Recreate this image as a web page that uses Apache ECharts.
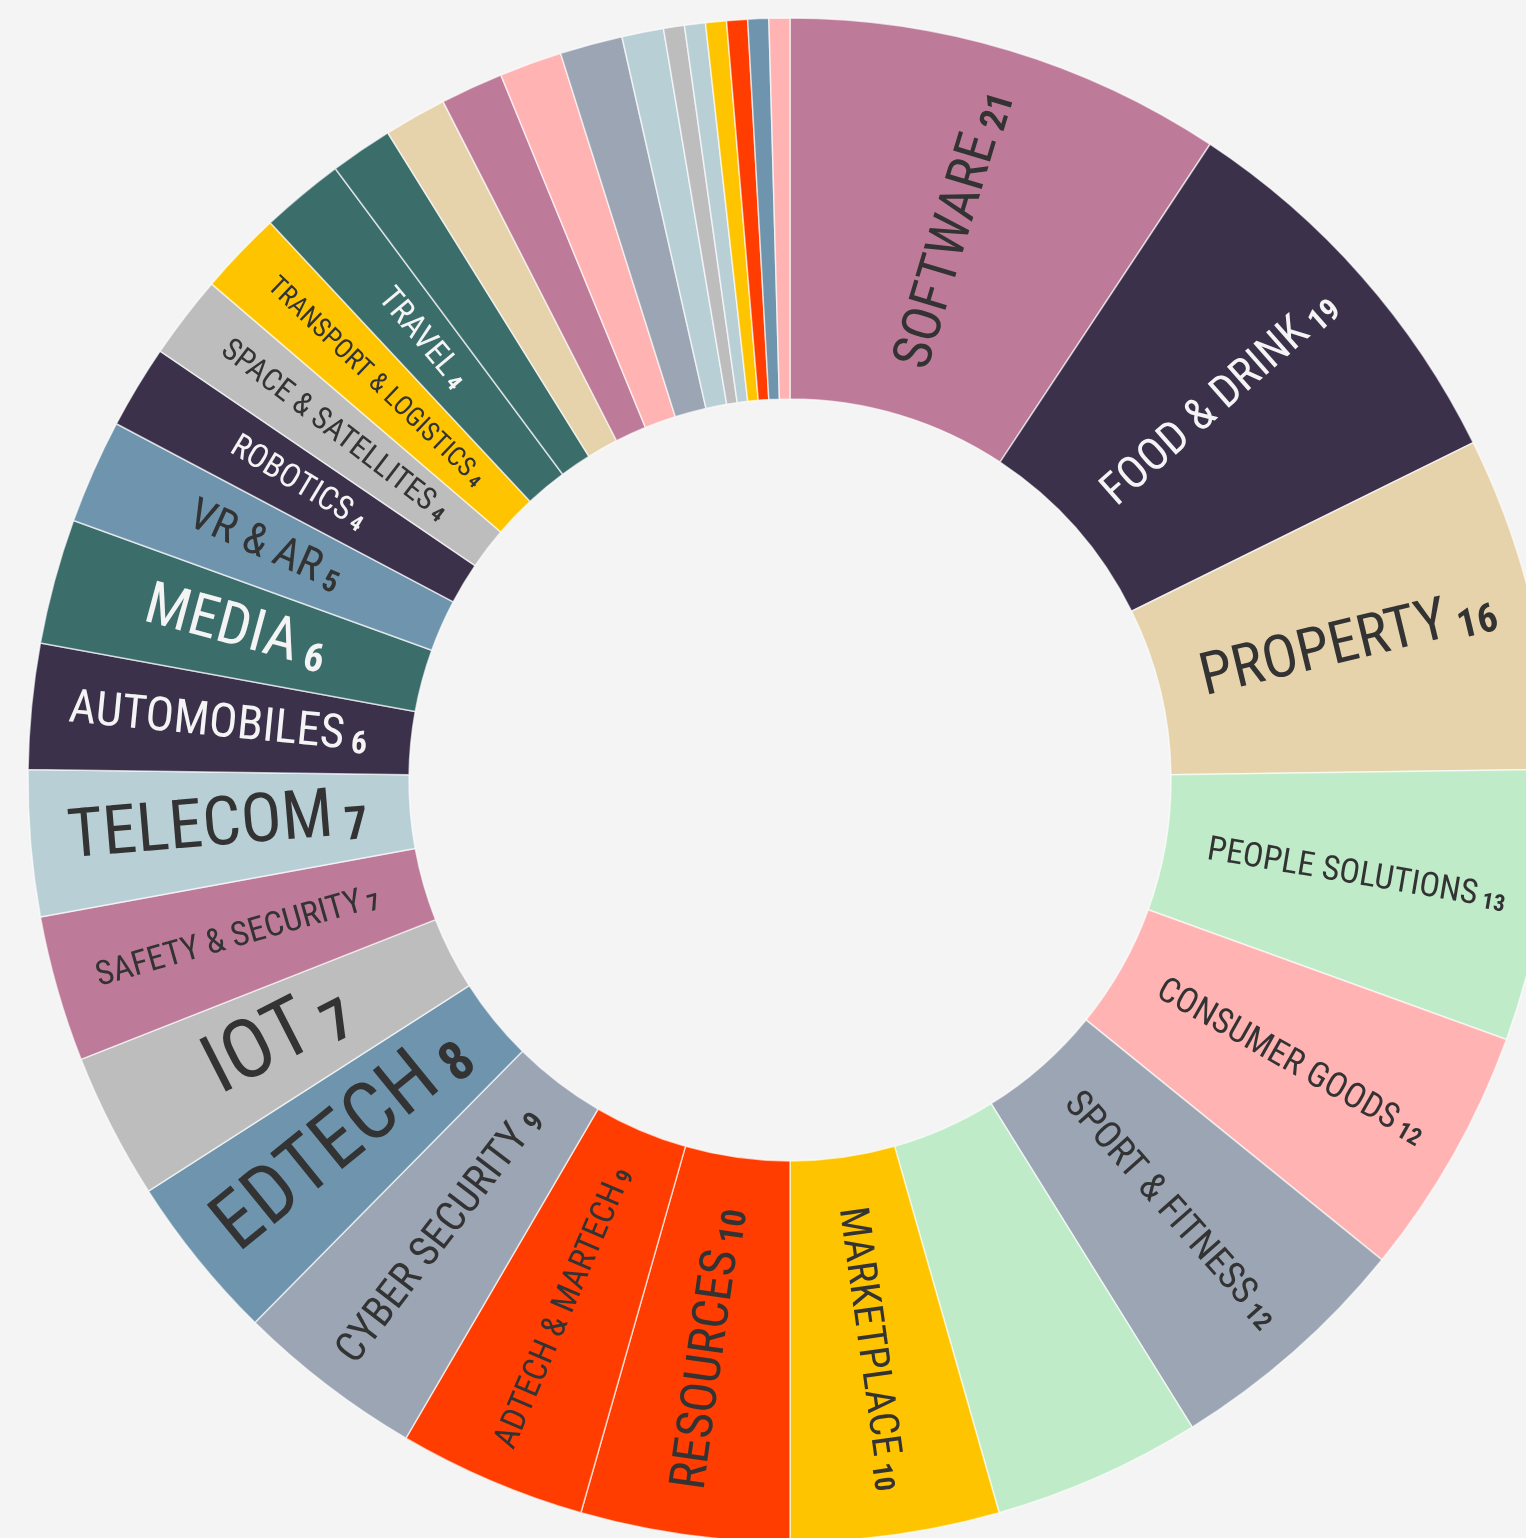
<!DOCTYPE html>
<html>
<head>
<meta charset="utf-8">
<script src="https://cdn.jsdelivr.net/npm/echarts@6/dist/echarts.min.js"></script>
<style>
  html, body { margin: 0; padding: 0; background: #f4f4f4; }
  #main { width: 1526px; height: 1538px; }
</style>
</head>
<body>
<div id="main"></div>
<script>
// sectors, biggest first (unnamed ones carry no label in the picture)
const categories = [
  'SOFTWARE', 'FOOD & DRINK', 'PROPERTY', 'PEOPLE SOLUTIONS', 'CONSUMER GOODS',
  'SPORT & FITNESS', '', 'MARKETPLACE', 'RESOURCES', 'ADTECH & MARTECH',
  'CYBER SECURITY', 'EDTECH', 'IOT', 'SAFETY & SECURITY', 'TELECOM',
  'AUTOMOBILES', 'MEDIA', 'VR & AR', 'ROBOTICS', 'SPACE & SATELLITES',
  'TRANSPORT & LOGISTICS', 'TRAVEL', '', '', '', '', '', '', '', '', '', '', '', ''
];
const counts = [
  21, 19, 16, 13, 12,
  12, 10, 10, 10, 9,
  9, 8, 7, 7, 7,
  6, 6, 5, 4, 4,
  4, 4, 3, 3, 3, 3, 3, 2, 1, 1, 1, 1, 1, 1
];

// styling
const C = {
  mauve: '#be7b99', dark: '#3b314b', beige: '#e6d3ab', green: '#bfebc9',
  pink: '#ffb3b3', slate: '#9ba5b3', yellow: '#ffc400', red: '#ff3d00',
  steel: '#6f94ad', gray: '#bdbdbd', ice: '#b9cfd6', teal: '#3b6d6b'
};
const sliceColors = [
  C.mauve, C.dark, C.beige, C.green, C.pink,
  C.slate, C.green, C.yellow, C.red, C.red,
  C.slate, C.steel, C.gray, C.mauve, C.ice,
  C.dark, C.teal, C.steel, C.dark, C.gray,
  C.yellow, C.teal, C.teal, C.beige, C.mauve, C.pink, C.slate, C.ice, C.gray, C.ice,
  C.yellow, C.red, C.steel, C.pink
];
// how long each label runs along its radius, px
const labelLengths = [
  288, 301, 301, 300, 297,
  302, 0, 283, 285, 302,
  309, 306, 152, 296, 300,
  301, 185, 163, 151, 278,
  293, 121
];
const darkFills = [C.dark, C.teal];

function hasFont(name) {
  const c = document.createElement('canvas').getContext('2d');
  const s = 'SOFTWARE & DRINK 21';
  c.font = '40px monospace';
  const a = c.measureText(s).width;
  c.font = '40px "' + name + '", monospace';
  return c.measureText(s).width !== a;
}
const labelFont = ['Roboto Condensed', 'Liberation Sans Narrow', 'DejaVu Sans Condensed', 'Roboto']
  .find(hasFont) || 'sans-serif';

const ctx = document.createElement('canvas').getContext('2d');
function textWidth(str, size, weight) {
  ctx.font = weight + ' ' + size + 'px "' + labelFont + '"';
  return ctx.measureText(str).width;
}
const VALUE_RATIO = 0.68;
function fitSize(name, value, len) {
  const w = textWidth(name, 100, 'normal') + textWidth(' ' + value, 100 * VALUE_RATIO, 'bold');
  return Math.round(100 * len / w);
}

const data = categories.map(function (name, i) {
  const color = sliceColors[i];
  const item = { name: name, value: counts[i], itemStyle: { color: color } };
  if (!name) {
    item.label = { show: false };
    return item;
  }
  const size = fitSize(name, counts[i], labelLengths[i]);
  const txt = darkFills.indexOf(color) >= 0 ? '#f4f4f4' : '#333333';
  item.label = {
    show: true,
    rich: {
      n: { fontFamily: labelFont, fontSize: size, color: txt, verticalAlign: 'bottom', lineHeight: size },
      v: { fontFamily: labelFont, fontSize: Math.round(size * VALUE_RATIO), fontWeight: 'bold', color: txt,
           verticalAlign: 'bottom', lineHeight: size }
    }
  };
  return item;
});

const myChart = echarts.init(document.getElementById('main'));
myChart.setOption({
  backgroundColor: '#f4f4f4',
  animation: false,
  series: [{
    type: 'pie',
    center: [790, 780],
    radius: [381, 762],
    startAngle: 90,
    clockwise: true,
    avoidLabelOverlap: false,
    itemStyle: { borderColor: 'rgba(255,255,255,0.65)', borderWidth: 1.5 },
    label: {
      position: 'inside',
      rotate: 'radial',
      formatter: function (p) { return p.name ? '{n|' + p.name + '}{v| ' + p.value + '}' : ''; }
    },
    labelLine: { show: false },
    emphasis: { disabled: true },
    data: data
  }]
});
</script>
</body>
</html>
